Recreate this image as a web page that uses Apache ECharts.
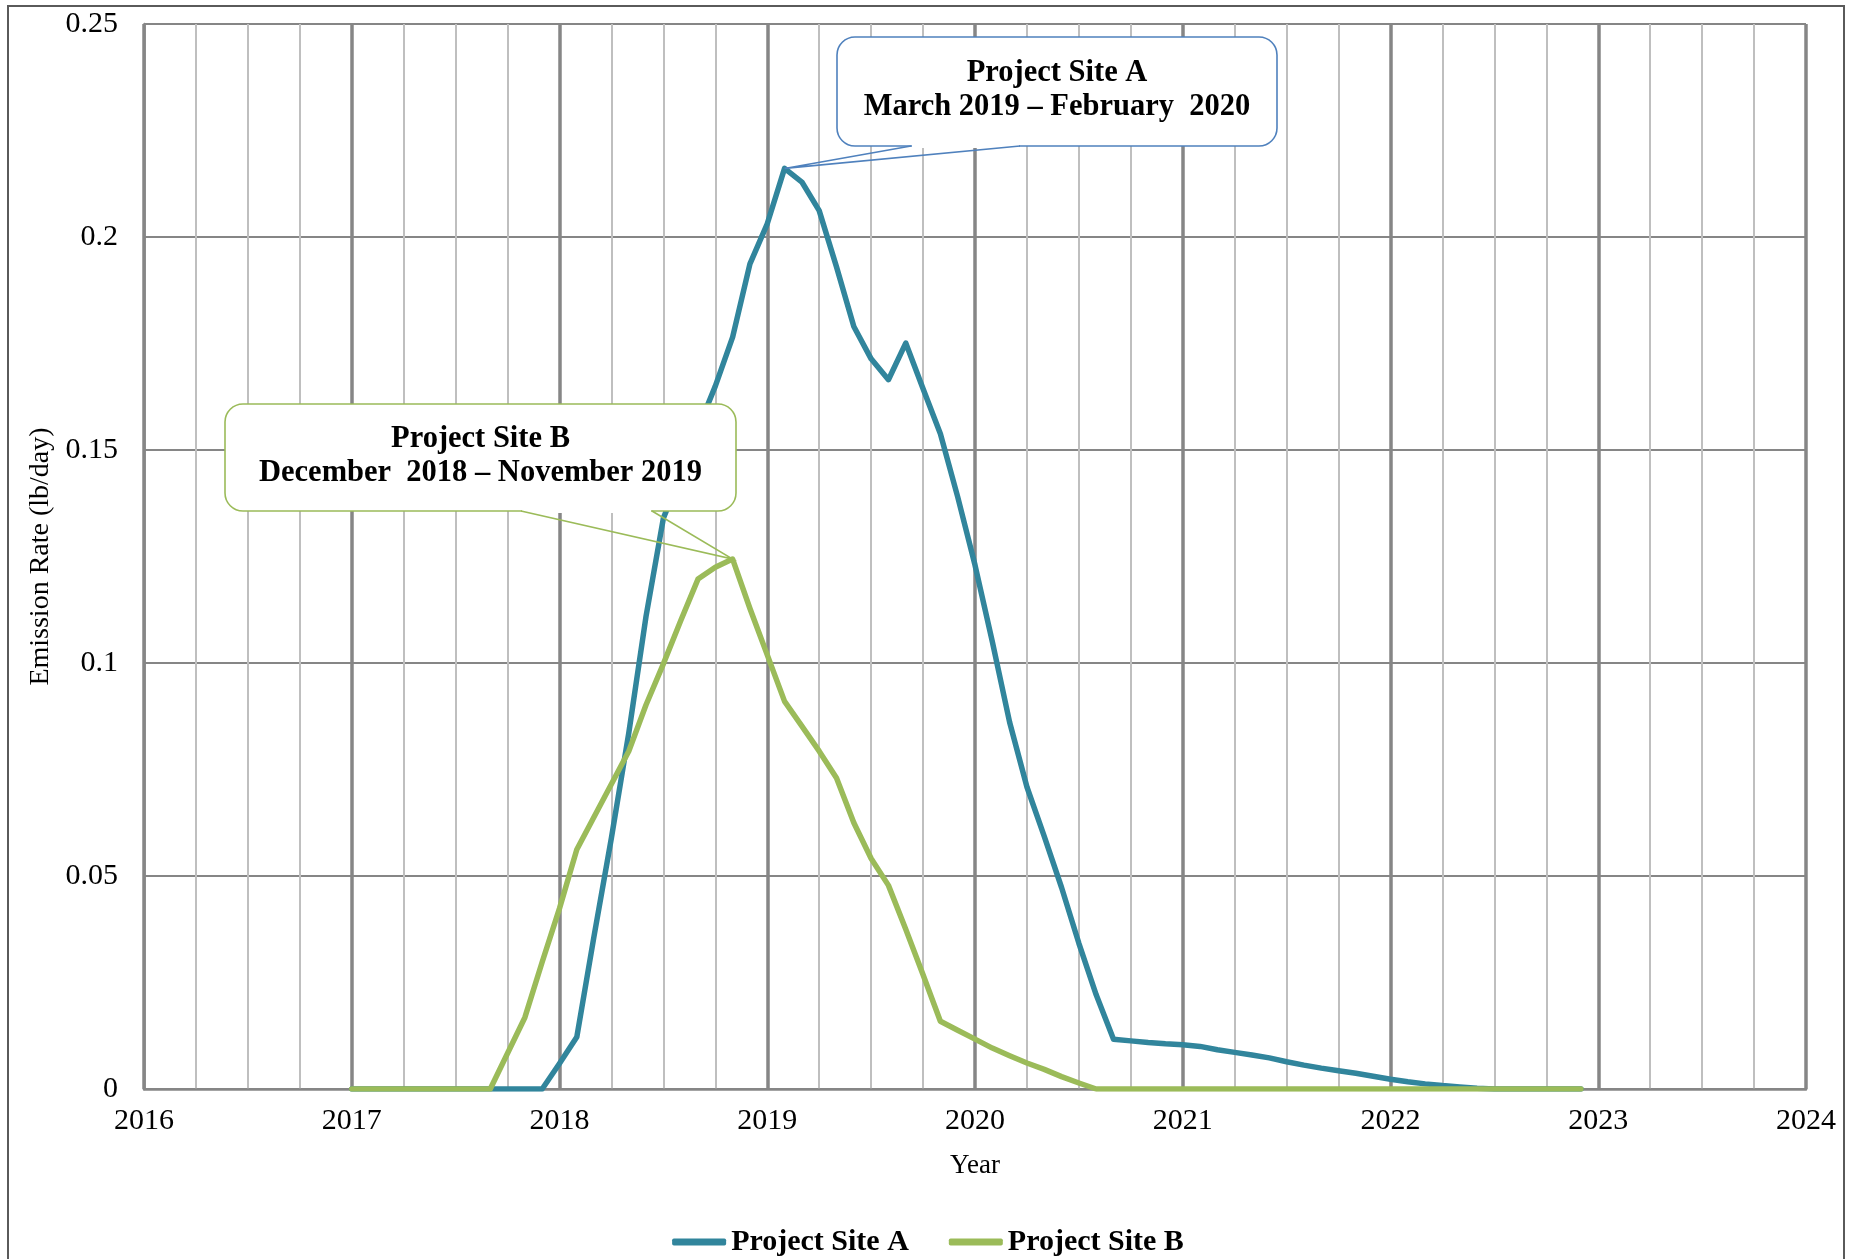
<!DOCTYPE html>
<html>
<head>
<meta charset="utf-8">
<title>Emission Rate</title>
<script src="https://cdn.jsdelivr.net/npm/echarts@6/dist/echarts.min.js"></script>
<style>
  html, body { margin: 0; padding: 0; background: #ffffff; }
  #chart { width: 1856px; height: 1259px; }
</style>
</head>
<body>
<div id="chart"></div>
<script>
// monthly emission rates (lb/day), Jan 2017 - Dec 2022
const startYear = 2017;
const siteA = [
  0, 0, 0, 0, 0, 0, 0, 0, 0, 0, 0, 0,
  0.006, 0.0122, 0.036, 0.059, 0.0835, 0.111, 0.134, 0.144, 0.155, 0.165, 0.1765, 0.1937,
  0.2031, 0.2161, 0.2129, 0.2062, 0.193, 0.179, 0.1714, 0.1665, 0.1751, 0.1644, 0.1538, 0.139,
  0.123, 0.105, 0.0861, 0.0709, 0.0593, 0.0473, 0.0342, 0.0221, 0.0117, 0.0113, 0.0109, 0.0106,
  0.0104, 0.0100, 0.0092, 0.0086, 0.0080, 0.0073, 0.0064, 0.0056, 0.0049, 0.0043, 0.0037, 0.0030,
  0.0023, 0.0017, 0.0012, 0.0008, 0.0005, 0.0002, 0, 0, 0, 0, 0, 0
];
const siteB = [
  0, 0, 0, 0, 0, 0, 0, 0, 0, 0.0084, 0.0168, 0.0298,
  0.0424, 0.0562, 0.0639, 0.0716, 0.0793, 0.0902, 0.0998, 0.1099, 0.1197, 0.1225, 0.1244, 0.1128,
  0.1019, 0.091, 0.0852, 0.0793, 0.073, 0.0625, 0.0541, 0.0478, 0.0375, 0.0268, 0.0159, 0.0138,
  0.0117, 0.0096, 0.0078, 0.0061, 0.0046, 0.0029, 0.0014, 0, 0, 0, 0, 0,
  0, 0, 0, 0, 0, 0, 0, 0, 0, 0, 0, 0,
  0, 0, 0, 0, 0, 0, 0, 0, 0, 0, 0, 0
];
const seriesNames = ['Project Site A', 'Project Site B'];
const calloutTextA = ['Project Site A', 'March 2019 – February  2020'];
const calloutTextB = ['Project Site B', 'December  2018 – November 2019'];

const colorA = '#31859C';
const colorB = '#9BBB59';
const serif = '"Liberation Serif", "Times New Roman", serif';

function toPoints(values) {
  return values.map((v, i) => [startYear + i / 12, v]);
}

const chart = echarts.init(document.getElementById('chart'));

chart.setOption({
  animation: false,
  backgroundColor: '#ffffff',
  grid: { left: 144, right: 50, top: 24, bottom: 170, containLabel: false },
  legend: {
    top: 1222,
    left: 'center',
    itemWidth: 54,
    itemHeight: 7,
    itemGap: 40,
    icon: 'roundRect',
    textStyle: { fontFamily: serif, fontWeight: 'bold', fontSize: 30, color: '#000' },
    data: seriesNames
  },
  xAxis: {
    type: 'value',
    min: 2016,
    max: 2024,
    interval: 1,
    name: 'Year',
    nameLocation: 'middle',
    nameGap: 63,
    nameTextStyle: { fontFamily: serif, fontSize: 27, color: '#000' },
    axisLine: { show: true, lineStyle: { color: '#868686', width: 2.5 } },
    axisTick: { show: false },
    axisLabel: { fontFamily: serif, fontSize: 30, color: '#000', margin: 17, formatter: v => String(v) },
    splitLine: { show: true, lineStyle: { color: '#868686', width: 3.5 } },
    minorTick: { show: false, splitNumber: 4 },
    minorSplitLine: { show: true, lineStyle: { color: '#BFBFBF', width: 2 } }
  },
  yAxis: {
    type: 'value',
    min: 0,
    max: 0.25,
    interval: 0.05,
    name: 'Emission Rate (lb/day)',
    nameLocation: 'middle',
    nameGap: 86,
    nameTextStyle: { fontFamily: serif, fontSize: 28, color: '#000' },
    axisLine: { show: true, lineStyle: { color: '#868686', width: 2.5 } },
    axisTick: { show: false },
    axisLabel: { fontFamily: serif, fontSize: 30, color: '#000', margin: 26, formatter: v => String(+v.toFixed(2)) },
    splitLine: { show: true, lineStyle: { color: '#868686', width: 2 } }
  },
  series: [
    {
      name: seriesNames[0],
      type: 'line',
      data: toPoints(siteA),
      symbol: 'none',
      color: colorA,
      lineStyle: { color: colorA, width: 5.5, join: 'round', cap: 'round' },
      z: 3
    },
    {
      name: seriesNames[1],
      type: 'line',
      data: toPoints(siteB),
      symbol: 'none',
      color: colorB,
      lineStyle: { color: colorB, width: 5.5, join: 'round', cap: 'round' },
      z: 4
    }
  ]
});

// callout box with a wedge pointing at the peak of a series
function callout(box, base1, base2, tip, color, lines) {
  const x0 = box[0], y0 = box[1], x1 = box[2], y1 = box[3];
  return [
    {
      type: 'rect', z: 100,
      shape: { x: x0, y: y0, width: x1 - x0, height: y1 - y0, r: 18 },
      style: { fill: '#ffffff', stroke: color, lineWidth: 1.6 }
    },
    {
      // hide the box border where the wedge opens
      type: 'line', z: 101,
      shape: { x1: base1 + 1, y1: y1, x2: base2 - 1, y2: y1 },
      style: { stroke: '#ffffff', lineWidth: 4 }
    },
    {
      type: 'polyline', z: 102,
      shape: { points: [[base1, y1], tip, [base2, y1]] },
      style: { fill: null, stroke: color, lineWidth: 1.6 }
    },
    {
      type: 'text', z: 103,
      x: (x0 + x1) / 2, y: (y0 + y1) / 2 - 1,
      style: {
        text: lines.join('\n'),
        fontFamily: serif, fontWeight: 'bold', fontSize: 30.5, lineHeight: 34,
        fill: '#000', align: 'center', verticalAlign: 'middle'
      }
    }
  ];
}

const peakA = siteA.indexOf(Math.max(...siteA));
const peakB = siteB.indexOf(Math.max(...siteB));
const tipA = chart.convertToPixel({ gridIndex: 0 }, [startYear + peakA / 12, siteA[peakA]]);
const tipB = chart.convertToPixel({ gridIndex: 0 }, [startYear + peakB / 12, siteB[peakB]]);

chart.setOption({
  graphic: [
    {
      type: 'rect', z: 90, silent: true,
      shape: { x: 8, y: 6, width: 1836, height: 1300 },
      style: { fill: null, stroke: '#5a5a5a', lineWidth: 2 }
    }
  ].concat(
    callout([837, 37, 1277, 146], 911, 1020, tipA, '#4F81BD', calloutTextA),
    callout([225, 404, 736, 511], 521, 652, tipB, colorB, calloutTextB)
  )
});

window.addEventListener('resize', function() {
  chart.resize();
});
</script>
</body>
</html>
